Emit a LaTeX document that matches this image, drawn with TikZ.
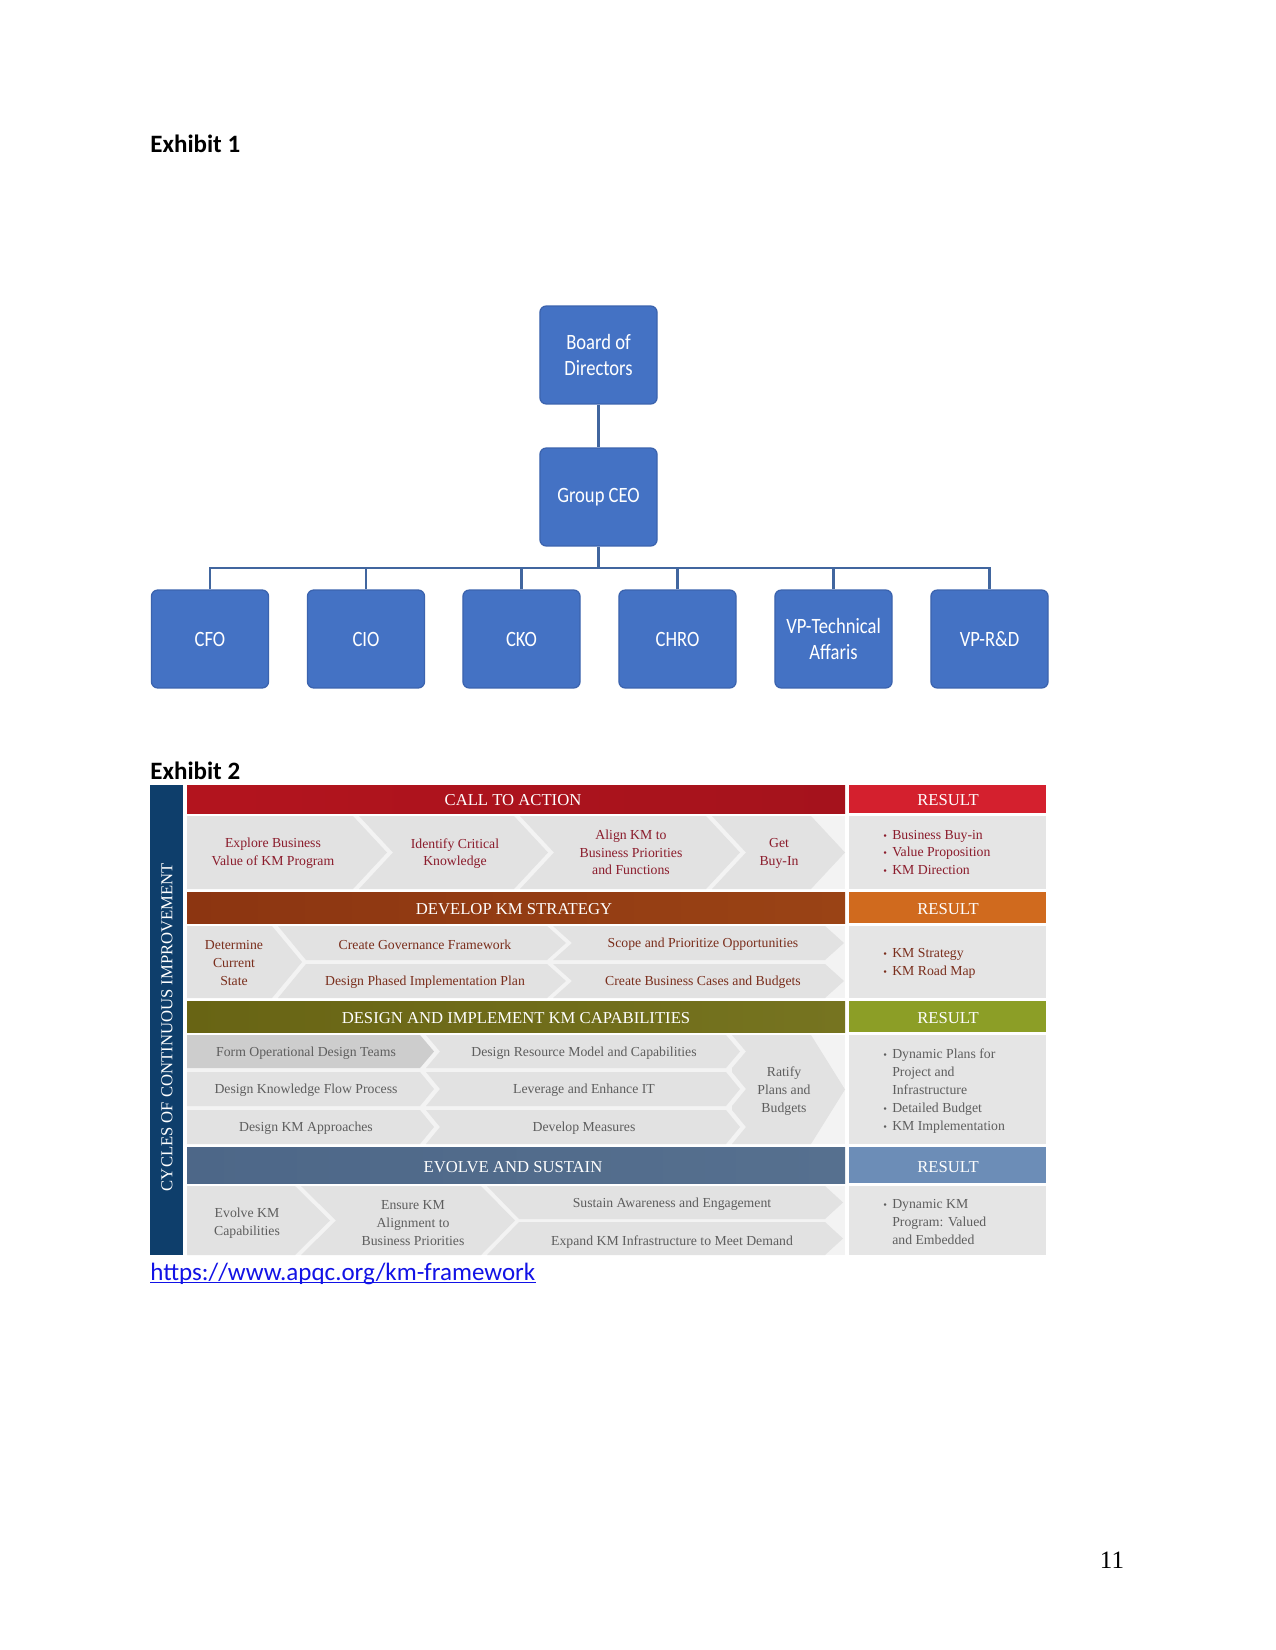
\documentclass[tikz,border=0pt]{standalone}
\usepackage{fontspec}
\setmainfont{Liberation Serif}
\newfontfamily\calfont{Carlito}
\newfontfamily\boxfont[FakeStretch=0.85]{Carlito}
\definecolor{orgblue}{HTML}{4472C4}
\definecolor{orgedge}{HTML}{3B63AE}
\definecolor{orgline}{HTML}{41669F}
\definecolor{linkblue}{HTML}{1212E6}
\definecolor{navybar}{HTML}{0E3E6B}
\definecolor{redA}{HTML}{B3141E}
\definecolor{redB}{HTML}{D4202E}
\definecolor{brownA}{HTML}{8C3511}
\definecolor{brownB}{HTML}{9A4315}
\definecolor{orangeR}{HTML}{D06A1E}
\definecolor{oliveA}{HTML}{686414}
\definecolor{oliveB}{HTML}{767420}
\definecolor{greenR}{HTML}{8C9E26}
\definecolor{slateA}{HTML}{4D6788}
\definecolor{slateB}{HTML}{56708F}
\definecolor{slateR}{HTML}{6C8DB7}
\definecolor{chevfill}{HTML}{E2E2E2}
\definecolor{chevdark}{HTML}{CDCDCD}
\definecolor{rowbg}{HTML}{F3F3F3}
\definecolor{resbg}{HTML}{E5E5E5}
\definecolor{txtred}{HTML}{8B1C2C}
\definecolor{txtbrown}{HTML}{7A2E1C}
\definecolor{txtgray}{HTML}{5E5E5E}
\newcommand{\bul}{{\fontsize{5}{6}\selectfont\textbullet}\hspace{2.5pt}}
\newcommand{\nobul}{\phantom{\bul}}
\begin{document}
\begin{tikzpicture}[x=0.48pt,y=-0.48pt,
  orgbox/.style={draw=orgedge, line width=0.6pt, fill=orgblue, rounded corners=3pt,
    minimum width=56.2pt, minimum height=47pt, text=white, align=center, inner sep=0pt,
    font=\boxfont\fontsize{10.5}{12.2}\selectfont},
  orgconn/.style={draw=orgline, line width=1pt},
  exlabel/.style={anchor=west, inner sep=0pt, font=\calfont\bfseries\fontsize{12}{14}\selectfont},
  hdrtxt/.style={text=white, inner sep=0pt, font=\fontsize{8}{9.6}\selectfont},
  rowtxt/.style={align=center, inner sep=0pt, font=\fontsize{6.6}{8.5}\selectfont},
  restxt/.style={align=left, anchor=west, inner sep=0pt, font=\fontsize{6.6}{8.6}\selectfont},
  chev/.style={fill=chevfill},
]
\useasboundingbox[fill=white] (0,0) rectangle (1275,1650);

% ---------------- Exhibit 1 ----------------
\node[exlabel] (ex1) at (150,144) {Exhibit 1};

\node[orgbox] (board) at (598.5,355) {Board of\\Directors};
\node[orgbox] (ceo) at (598.5,497) {Group CEO};
\node[orgbox] (cfo) at (210,639) {CFO};
\node[orgbox] (cio) at (366,639) {CIO};
\node[orgbox] (cko) at (521.5,639) {CKO};
\node[orgbox] (chro) at (677.5,639) {CHRO};
\node[orgbox] (vpt) at (833.5,639) {VP-Technical\\Affaris};
\node[orgbox] (vprd) at (989.5,639) {VP-R\&D};

\coordinate (bus) at (598.5,568);
\draw[orgconn] (board.south) -- (ceo.north);
\draw[orgconn] (ceo.south) -- (bus);
\draw[orgconn] (cfo.north) |- (bus);
\draw[orgconn] (cio.north) |- (bus);
\draw[orgconn] (cko.north) |- (bus);
\draw[orgconn] (chro.north) |- (bus);
\draw[orgconn] (vpt.north) |- (bus);
\draw[orgconn] (vprd.north) |- (bus);

% ---------------- Exhibit 2 ----------------
\node[exlabel] (ex2) at (150,771) {Exhibit 2};

% left bar
\fill[navybar] (150,785) rectangle (183,1255);
\node[hdrtxt, rotate=90] (cycles) at (167,1027) {CYCLES OF CONTINUOUS IMPROVEMENT};

% headers
\shade[left color=redA, right color=redA!92!black] (187,785) rectangle (845,813);
\fill[redB] (849,785) rectangle (1046,813);
\shade[left color=brownA, right color=brownB] (187,892) rectangle (845,923);
\fill[orangeR] (849,892) rectangle (1046,923);
\shade[left color=oliveA, right color=oliveB] (187,1001) rectangle (845,1032);
\fill[greenR] (849,1001) rectangle (1046,1032);
\shade[left color=slateA, right color=slateB] (187,1147) rectangle (845,1183);
\fill[slateR] (849,1147) rectangle (1046,1183);

\node[hdrtxt] (h1) at (513,800.5) {CALL TO ACTION};
\node[hdrtxt] (r1) at (948,800.5) {RESULT};
\node[hdrtxt] (h2) at (514,909) {DEVELOP KM STRATEGY};
\node[hdrtxt] (r2) at (948,909) {RESULT};
\node[hdrtxt] (h3) at (516,1018) {DESIGN AND IMPLEMENT KM CAPABILITIES};
\node[hdrtxt] (r3) at (948,1018) {RESULT};
\node[hdrtxt] (h4) at (513,1167) {EVOLVE AND SUSTAIN};
\node[hdrtxt] (r4) at (948,1167) {RESULT};

% row backgrounds
\fill[rowbg] (187,816) rectangle (845,889);
\fill[rowbg] (187,926) rectangle (845,998);
\fill[rowbg] (187,1035) rectangle (845,1144);
\fill[rowbg] (187,1186) rectangle (845,1255);
\fill[resbg] (849,816) rectangle (1046,889);
\fill[resbg] (849,926) rectangle (1046,998);
\fill[resbg] (849,1035) rectangle (1046,1144);
\fill[resbg] (849,1186) rectangle (1046,1255);

% row 1 chevrons
\fill[chev] (187,816) -- (353,816) -- (387,852.5) -- (353,889) -- (187,889) -- cycle;
\fill[chev] (359,816) -- (514,816) -- (548,852.5) -- (514,889) -- (359,889) -- (393,852.5) -- cycle;
\fill[chev] (520,816) -- (706,816) -- (740,852.5) -- (706,889) -- (520,889) -- (554,852.5) -- cycle;
\fill[chev] (712,816) -- (811,816) -- (845,852.5) -- (811,889) -- (712,889) -- (746,852.5) -- cycle;

% row 2 chevrons
\fill[chev] (187,926) -- (272,926) -- (302,962) -- (272,998) -- (187,998) -- cycle;
\fill[chev] (278,926) -- (547,926) -- (566,943) -- (547,960) -- (306,960) -- cycle;
\fill[chev] (306,964) -- (547,964) -- (566,981) -- (547,998) -- (278,998) -- cycle;
\fill[chev] (553,926) -- (825,926) -- (844,943) -- (825,960) -- (553,960) -- (572,943) -- cycle;
\fill[chev] (553,964) -- (825,964) -- (844,981) -- (825,998) -- (553,998) -- (572,981) -- cycle;

% row 3 chevrons
\fill[chevdark] (187,1035) -- (420,1035) -- (434,1051.5) -- (420,1068) -- (187,1068) -- cycle;
\fill[chev] (187,1072) -- (420,1072) -- (434,1089) -- (420,1106) -- (187,1106) -- cycle;
\fill[chev] (187,1110) -- (420,1110) -- (434,1127) -- (420,1144) -- (187,1144) -- cycle;
\fill[chev] (426,1035) -- (726,1035) -- (740,1051.5) -- (726,1068) -- (426,1068) -- (440,1051.5) -- cycle;
\fill[chev] (426,1072) -- (726,1072) -- (740,1089) -- (726,1106) -- (426,1106) -- (440,1089) -- cycle;
\fill[chev] (426,1110) -- (726,1110) -- (740,1127) -- (726,1144) -- (426,1144) -- (440,1127) -- cycle;
\fill[chev] (732,1035) -- (811,1035) -- (845,1089.5) -- (811,1144) -- (732,1144)
  -- (746,1127) -- (732,1110) -- (732,1106) -- (746,1089) -- (732,1072) -- (732,1068)
  -- (746,1051.5) -- cycle;

% row 4 chevrons
\fill[chev] (187,1186) -- (295,1186) -- (330,1220.5) -- (295,1255) -- (187,1255) -- cycle;
\fill[chev] (301,1186) -- (481,1186) -- (515,1220.5) -- (481,1255) -- (301,1255) -- (336,1220.5) -- cycle;
\fill[chev] (487,1186) -- (825,1186) -- (843,1202.5) -- (825,1219) -- (519,1219) -- cycle;
\fill[chev] (519,1222) -- (825,1222) -- (843,1238.5) -- (825,1255) -- (487,1255) -- cycle;

% row 1 texts
\node[rowtxt, text=txtred] (t11) at (273,853.5) {Explore Business\\Value of KM Program};
\node[rowtxt, text=txtred] (t12) at (455,853.5) {Identify Critical\\Knowledge};
\node[rowtxt, text=txtred] (t13) at (631,852.5) {Align KM to\\Business Priorities\\and Functions};
\node[rowtxt, text=txtred] (t14) at (779,853.5) {Get\\Buy-In};
\node[restxt, text=txtred] (res1) at (883,852.5) {\bul Business Buy-in\\\bul Value Proposition\\\bul KM Direction};

% row 2 texts
\node[rowtxt, text=txtbrown] (t21) at (234,963) {Determine\\Current\\State};
\node[rowtxt, text=txtbrown] (t22) at (425,944.5) {Create Governance Framework};
\node[rowtxt, text=txtbrown] (t23) at (425,982) {Design Phased Implementation Plan};
\node[rowtxt, text=txtbrown] (t24) at (703,944.5) {Scope and Prioritize Opportunities};
\node[rowtxt, text=txtbrown] (t25) at (703,982) {Create Business Cases and Budgets};
\node[restxt, text=txtbrown] (res2) at (883,963) {\bul KM Strategy\\\bul KM Road Map};

% row 3 texts
\node[rowtxt, text=txtgray] (t31) at (306,1053) {Form Operational Design Teams};
\node[rowtxt, text=txtgray] (t32) at (306,1090.5) {Design Knowledge Flow Process};
\node[rowtxt, text=txtgray] (t33) at (306,1128.5) {Design KM Approaches};
\node[rowtxt, text=txtgray] (t34) at (584,1053) {Design Resource Model and Capabilities};
\node[rowtxt, text=txtgray] (t35) at (584,1090.5) {Leverage and Enhance IT};
\node[rowtxt, text=txtgray] (t36) at (584,1128.5) {Develop Measures};
\node[rowtxt, text=txtgray] (t37) at (784,1091) {Ratify\\Plans and\\Budgets};
\node[restxt, text=txtgray] (res3) at (883,1091) {\bul Dynamic Plans for\\\nobul Project and\\\nobul Infrastructure\\\bul Detailed Budget\\\bul KM Implementation};

% row 4 texts
\node[rowtxt, text=txtgray] (t41) at (247,1223.5) {Evolve KM\\Capabilities};
\node[rowtxt, text=txtgray] (t42) at (413,1223) {Ensure KM\\Alignment to\\Business Priorities};
\node[rowtxt, text=txtgray] (t43) at (672,1204) {Sustain Awareness and Engagement};
\node[rowtxt, text=txtgray] (t44) at (672,1242.5) {Expand KM Infrastructure to Meet Demand};
\node[restxt, text=txtgray] (res4) at (883,1222) {\bul Dynamic KM\\\nobul Program: Valued\\\nobul and Embedded};

% link
\node[anchor=base west, inner sep=0pt, text=linkblue, font=\calfont\fontsize{12}{14}\selectfont] (url) at (150,1280) {https://www.apqc.org/km-framework};
\draw[linkblue, line width=0.55pt] ([yshift=-1.3pt]url.base west) -- ([yshift=-1.3pt]url.base east);

% page number
\node[inner sep=0pt, font=\fontsize{12}{14}\selectfont] (pagenum) at (1112,1560) {11};
\end{tikzpicture}
\end{document}
